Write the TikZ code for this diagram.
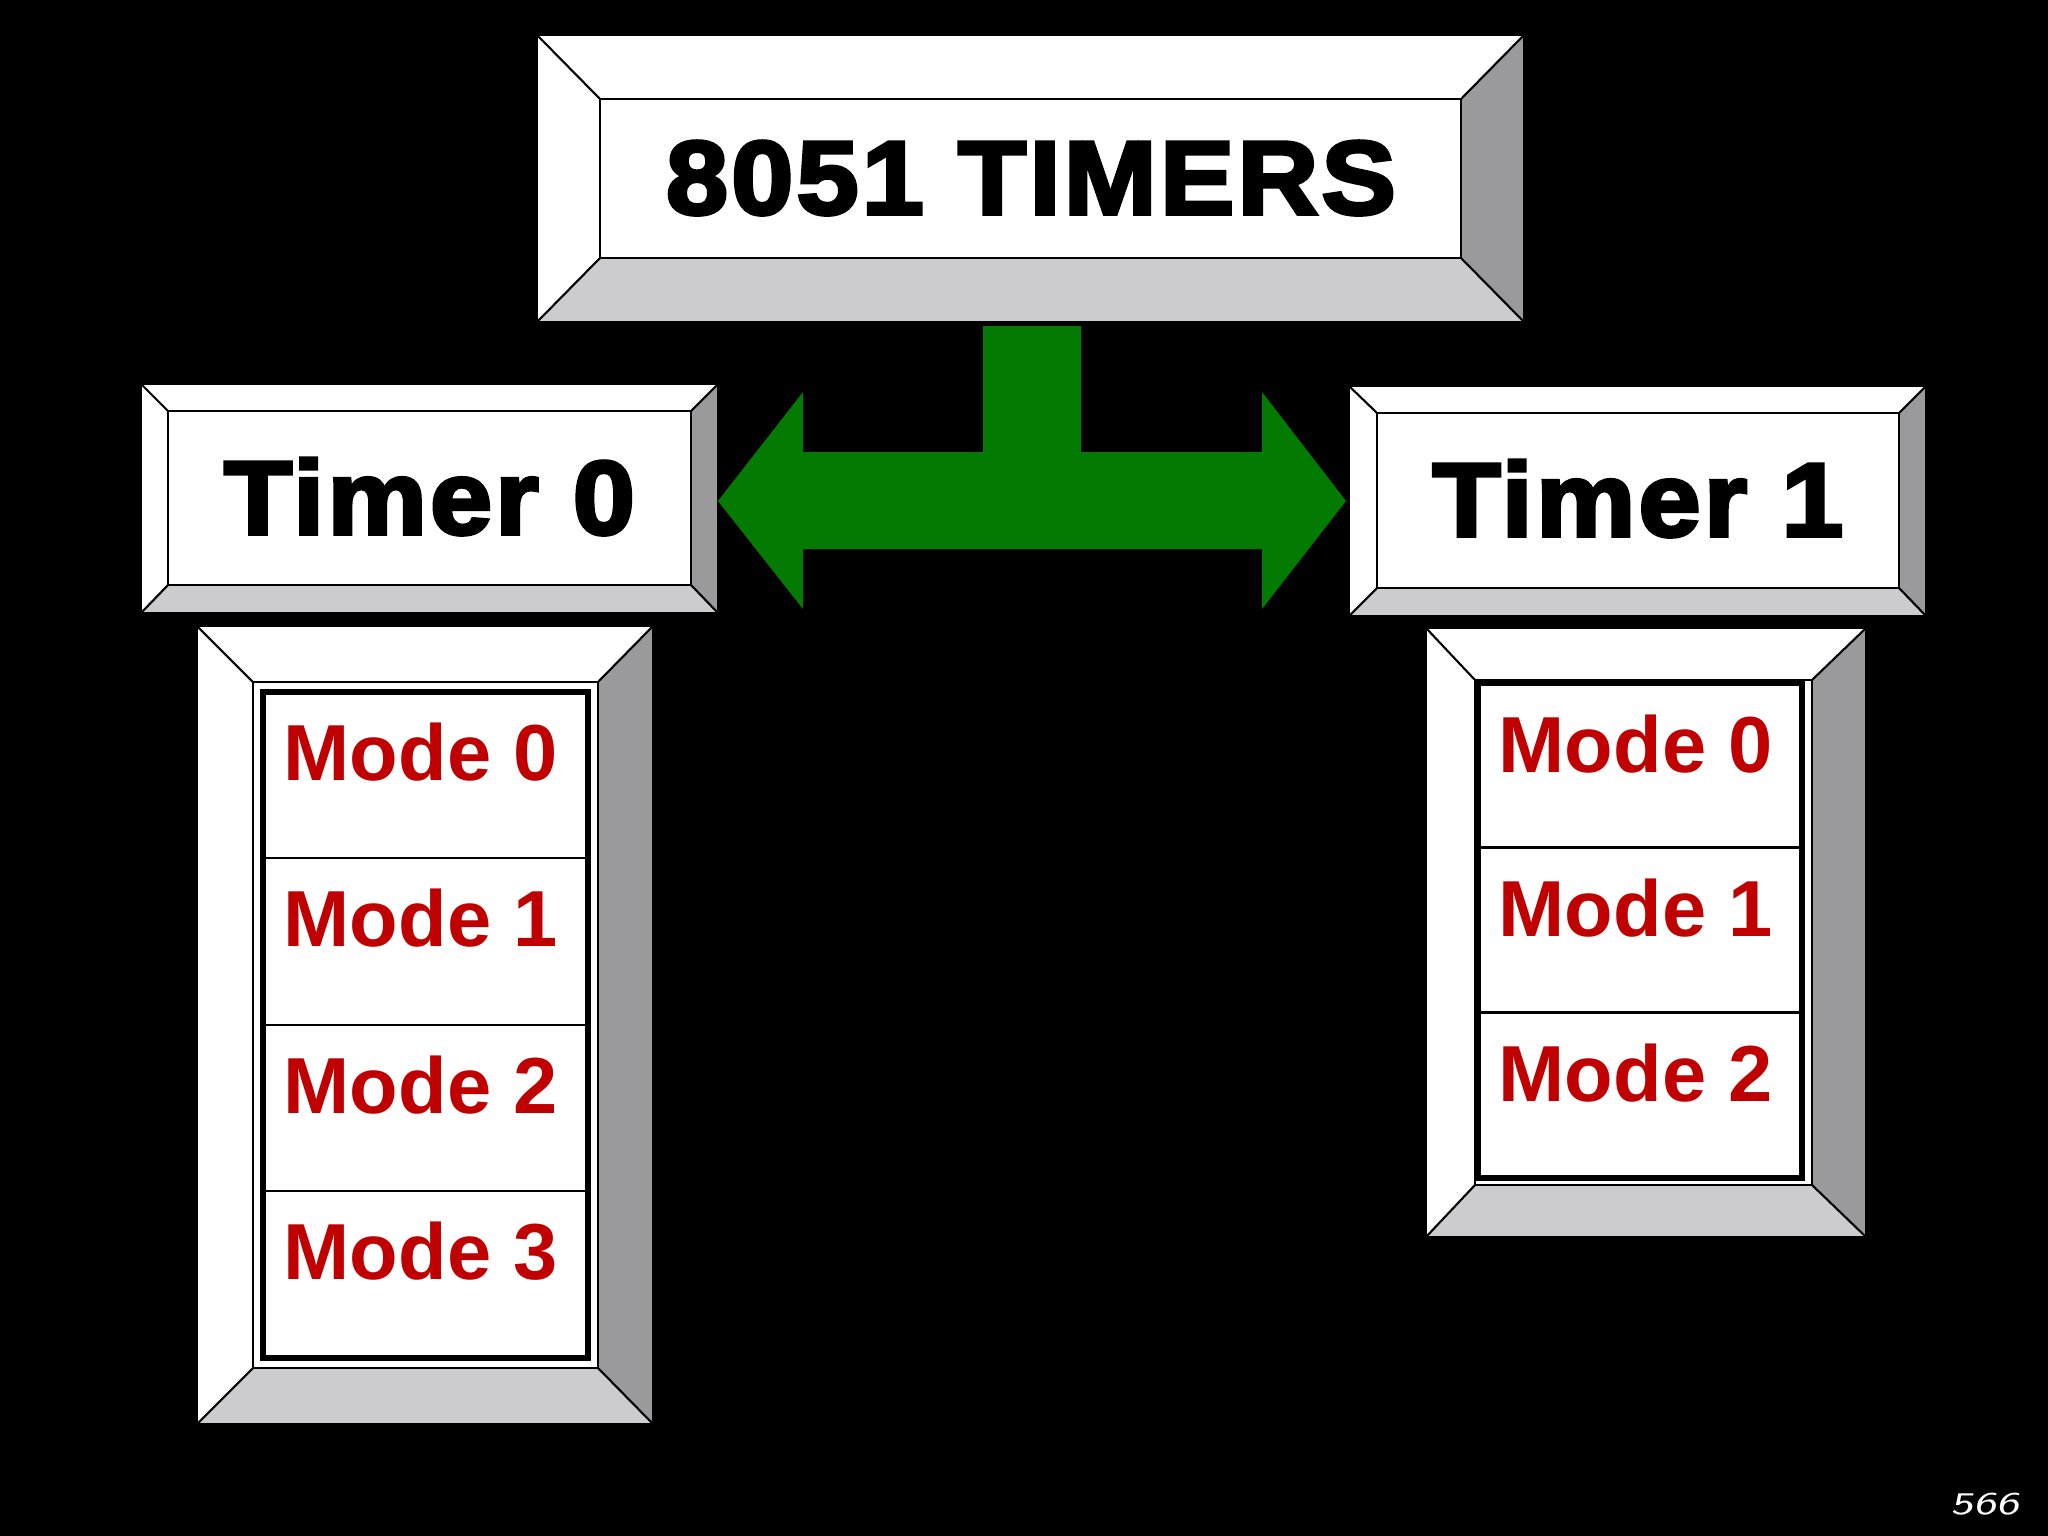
\documentclass[tikz,border=0pt]{standalone}
\usepackage{fontspec}
\setmainfont{Liberation Sans}
\newfontfamily\heavyfont[FakeBold=3.5,FakeStretch=1.07,LetterSpace=3]{Liberation Sans Bold}
\newfontfamily\pagefont[FakeStretch=1.4,FakeSlant=0.2]{Latin Modern Sans}
\definecolor{arrowgreen}{RGB}{3,123,3}
\definecolor{modered}{RGB}{192,0,0}
\definecolor{facedark}{RGB}{154,154,156}
\definecolor{facelight}{RGB}{204,204,206}

% outer x1,y1,x2,y2 then inner x1,y1,x2,y2
\newcommand{\bevelbox}[8]{%
  \fill[white] (#1,#2) rectangle (#3,#4);
  \fill[facedark] (#3,#2) -- (#7,#6) -- (#7,#8) -- (#3,#4) -- cycle;
  \fill[facelight] (#1,#4) -- (#5,#8) -- (#7,#8) -- (#3,#4) -- cycle;
  \draw[edge] (#1,#2) rectangle (#3,#4);
  \draw[edge] (#5,#6) rectangle (#7,#8);
  \draw[edge] (#1,#2) -- (#5,#6) (#3,#2) -- (#7,#6) (#1,#4) -- (#5,#8) (#3,#4) -- (#7,#8);
}

\begin{document}
\begin{tikzpicture}[x=0.01cm, y=-0.01cm,
  edge/.style={black, line width=0.6pt, line join=miter},
  frame/.style={black, line width=1.7pt},
  heading/.style={inner sep=0, anchor=base, font=\heavyfont\fontsize{29.7}{34}\selectfont},
  modetext/.style={inner sep=0, anchor=base west, text=modered, font=\bfseries\fontsize{22.6}{27}\selectfont}]
\useasboundingbox (0,0) rectangle (2048,1536);
\fill[black] (0,0) rectangle (2048,1536);

% title and the two timers
\bevelbox{537}{35}{1524}{322}{600}{99}{1461}{258}
\bevelbox{141}{384}{718}{613}{168}{411}{691}{585}
\bevelbox{1349}{386}{1926}{616}{1377}{413}{1899}{588}
\node[heading] (title) at (1031,214) {8051 TIMERS};
\node[heading] (timer0) at (429.5,534) {Timer 0};
\node[heading] (timer1) at (1638,536) {Timer 1};

% green double arrow
\fill[arrowgreen] (718,501) -- (803,392) -- (803,452) -- (983,452) -- (983,326)
  -- (1081,326) -- (1081,452) -- (1262,452) -- (1262,392) -- (1346,501)
  -- (1262,609) -- (1262,549) -- (803,549) -- (803,609) -- cycle;

% modes of timer 0
\bevelbox{197}{626}{653}{1424}{253}{682}{598}{1368}
\draw[frame] (263,692) rectangle (588,1358);
\foreach \y in {858,1025,1191} {
 \draw[edge] (266,\y) -- (585,\y);
}
\foreach \i/\y in {0/780,1/946.5,2/1113,3/1279} {
 \node[modetext] (t0mode\i) at (283,\y) {Mode \i};
}

% modes of timer 1
\bevelbox{1426}{628}{1866}{1237}{1475}{680}{1812}{1185}
\draw[frame] (1478,683) rectangle (1802,1178);
\foreach \y in {847.5,1012.5} {
 \draw[edge] (1481,\y) -- (1799,\y);
}
\foreach \i/\y in {0/772,1/936.7,2/1101} {
 \node[modetext] (t1mode\i) at (1498,\y) {Mode \i};
}

\node[inner sep=0, anchor=base west, text=white, font=\pagefont\fontsize{9}{10}\selectfont] (page) at (1950,1514) {566};
\end{tikzpicture}
\end{document}
